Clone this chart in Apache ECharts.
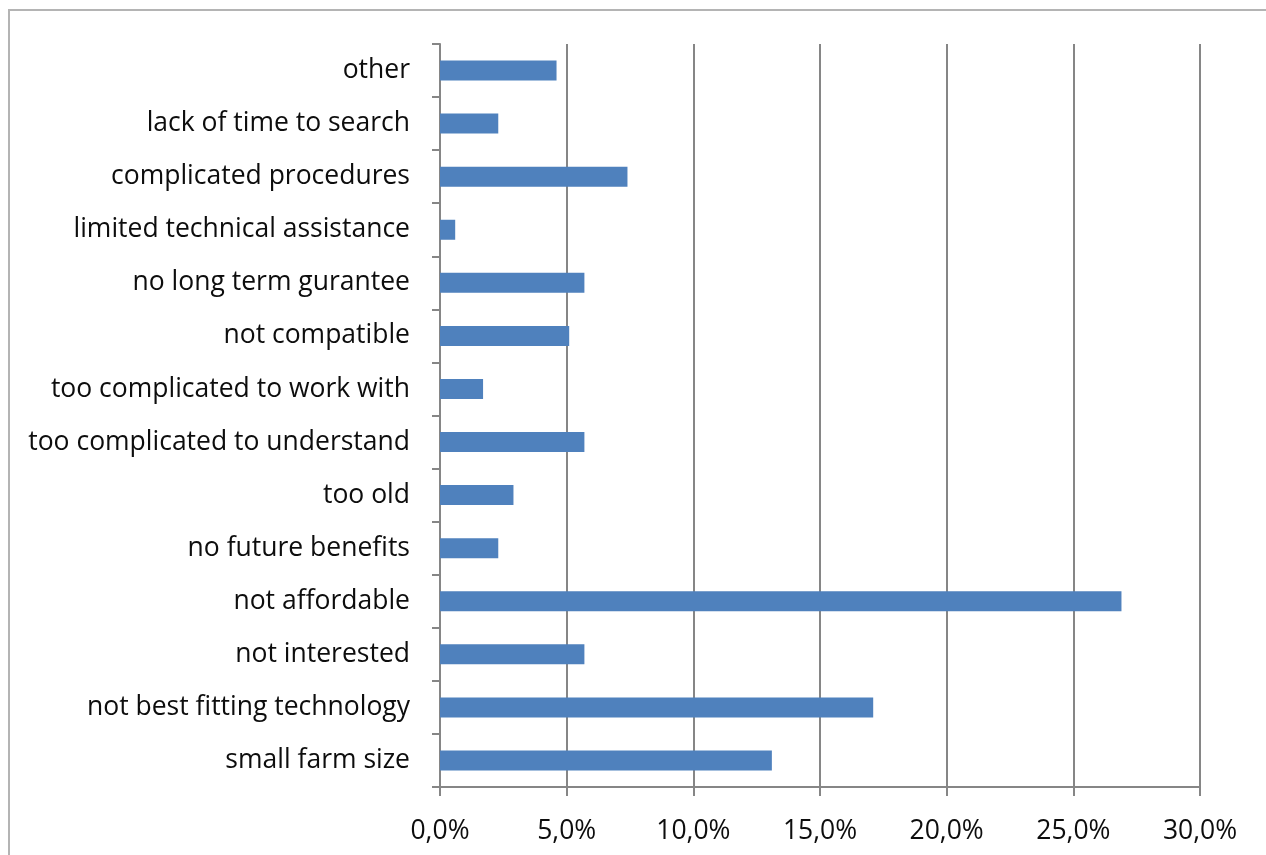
<!DOCTYPE html>
<html>
<head>
<meta charset="utf-8">
<script src="https://cdn.jsdelivr.net/npm/echarts@6/dist/echarts.min.js"></script>
<style>
  html, body { margin: 0; padding: 0; background: #ffffff; }
  #chart { width: 1266px; height: 855px; }
</style>
</head>
<body>
<div id="chart"></div>
<script>
// Reasons given, listed top to bottom as they appear on the chart
const reasons = [
  'other',
  'lack of time to search',
  'complicated procedures',
  'limited technical assistance',
  'no long term gurantee',
  'not compatible',
  'too complicated to work with',
  'too complicated to understand',
  'too old',
  'no future benefits',
  'not affordable',
  'not interested',
  'not best fitting technology',
  'small farm size'
];

// Share of respondents (percent) for each reason, same order
const shares = [4.6, 2.3, 7.4, 0.6, 5.7, 5.1, 1.7, 5.7, 2.9, 2.3, 26.9, 5.7, 17.1, 13.1];

// Percentage axis range
const axisMin = 0;
const axisMax = 30;
const axisStep = 5;

const fontFamily = '"Open Sans", "Noto Sans", sans-serif';
const gray = '#868686';
const textColor = '#0d0d0d';

const chart = echarts.init(document.getElementById('chart'), null, { renderer: 'canvas' });

chart.setOption({
  backgroundColor: '#ffffff',
  animation: false,
  graphic: [{
    type: 'rect',
    shape: { x: 9, y: 10, width: 1400, height: 1000 },
    style: { fill: 'none', stroke: '#b4b4b4', lineWidth: 2 },
    silent: true
  }],
  grid: { left: 440, right: 66, top: 44, bottom: 68, containLabel: false },
  xAxis: {
    type: 'value',
    min: axisMin,
    max: axisMax,
    interval: axisStep,
    axisLine: { show: true, lineStyle: { color: gray, width: 2 } },
    axisTick: { show: true, length: 9, lineStyle: { color: gray, width: 2 } },
    splitLine: { show: true, lineStyle: { color: gray, width: 2 } },
    axisLabel: {
      margin: 31,
      fontFamily: fontFamily,
      fontSize: 26.5,
      color: textColor,
      formatter: v => v.toFixed(1).replace('.', ',') + '%'
    }
  },
  yAxis: {
    type: 'category',
    data: reasons,
    inverse: true,
    axisLine: { show: true, lineStyle: { color: gray, width: 2 } },
    axisTick: { show: true, length: 8, lineStyle: { color: gray, width: 2 } },
    splitLine: { show: false },
    axisLabel: {
      margin: 30,
      fontFamily: fontFamily,
      fontSize: 26.5,
      color: textColor,
      padding: [8, 0, 0, 0]
    }
  },
  series: [{
    type: 'bar',
    data: shares,
    barWidth: 20,
    itemStyle: { color: '#4f81bd' },
    label: { show: false }
  }]
});
</script>
</body>
</html>
